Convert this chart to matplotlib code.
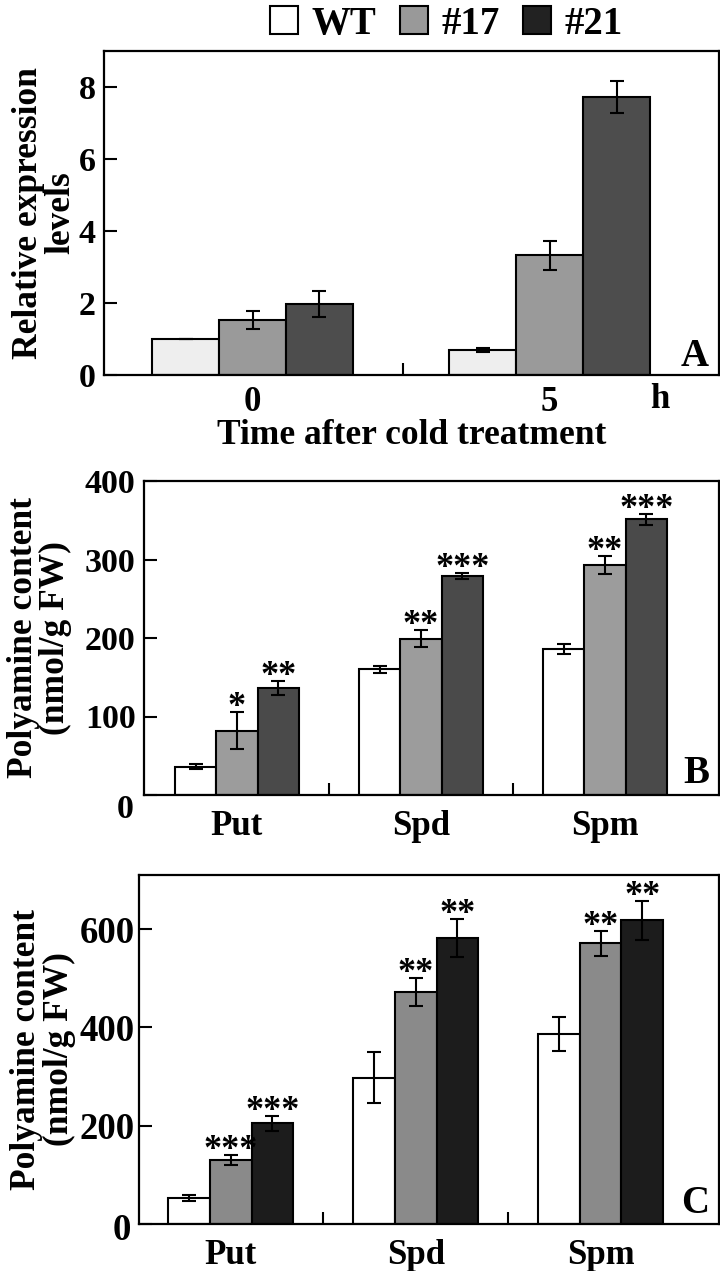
import matplotlib
matplotlib.use("Agg")
import matplotlib.pyplot as plt
from matplotlib.patches import Patch
import numpy as np

plt.rcParams['font.family'] = ['Liberation Serif', 'DejaVu Serif']
plt.rcParams['font.weight'] = 'bold'

# ---------------- data ----------------
genotypes = ['WT', '#17', '#21']

# Panel A
time_labels = ['0', '5']
a_wt = [1.00, 0.70]
a_17 = [1.53, 3.32]
a_21 = [1.98, 7.73]
a_wt_err = [0.0, 0.05]
a_17_err = [0.25, 0.40]
a_21_err = [0.36, 0.44]

# Panel B
amines = ['Put', 'Spd', 'Spm']
b_wt = [36, 160, 186]
b_17 = [82, 199, 293]
b_21 = [136, 279, 351]
b_wt_err = [3, 4, 6]
b_17_err = [24, 11, 12]
b_21_err = [9, 3.5, 7]
b_17_sig = ['*', '**', '**']
b_21_sig = ['**', '***', '***']

# Panel C
c_wt = [52, 298, 386]
c_17 = [131, 472, 571]
c_21 = [205, 582, 618]
c_wt_err = [6, 51, 35]
c_17_err = [10, 28, 26]
c_21_err = [15, 39, 40]
c_17_sig = ['***', '**', '**']
c_21_sig = ['***', '**', '**']

W, H = 720, 1271
fig = plt.figure(figsize=(W / 100, H / 100), dpi=100)


def fr(l, r, top, bot):
    return [l / W, 1 - bot / H, (r - l) / W, (bot - top) / H]


YTICK_FS = 24.5
XTICK_FS = 25
LAB_FS = 25.5
LET_FS = 28
bw = 0.225
err_kw = dict(ecolor='black', elinewidth=1.5, capsize=5, capthick=1.5)


def style(ax, yfs=YTICK_FS, ypad=6, xpad=11):
    for s in ax.spines.values():
        s.set_linewidth(1.6)
    ax.tick_params(axis='y', direction='in', length=9, width=1.5, pad=ypad,
                   labelsize=yfs)
    ax.tick_params(axis='x', which='major', length=0, pad=xpad, labelsize=XTICK_FS)
    ax.tick_params(axis='x', which='minor', direction='in', length=9, width=1.5)
    for lab in ax.get_xticklabels() + ax.get_yticklabels():
        lab.set_fontweight('bold')


def bars(ax, x, vals, errs, colors):
    out = []
    for i, (v, e, c) in enumerate(zip(vals, errs, colors)):
        xs = x + (i - 1) * bw
        ax.bar(xs, v, bw, color=c, edgecolor='black', linewidth=1.5,
               yerr=e, error_kw=err_kw, zorder=2)
        out.append(xs)
    return out


def stars(ax, xs, vals, errs, sig):
    for x, v, e, s in zip(xs, vals, errs, sig):
        ax.annotate(s, xy=(x, v + e), xytext=(0, -4), textcoords='offset pixels',
                    ha='center', va='baseline', fontsize=26, fontweight='bold')


def letter(ax, s, up):
    ax.annotate(s, xy=(1, 0), xycoords='axes fraction', xytext=(-10, up),
                textcoords='offset pixels', ha='right', va='baseline',
                fontsize=LET_FS, fontweight='bold')


# ---------------- Panel A ----------------
axA = fig.add_axes(fr(104, 719, 51, 375))
xA = np.arange(len(time_labels))
colsA = ['#eeeeee', '#9a9a9a', '#4d4d4d']
bars(axA, xA, [a_wt, a_17, a_21], [a_wt_err, a_17_err, a_21_err], colsA)
axA.set_xlim(-0.5, 1.57)
axA.set_ylim(0, 9)
axA.set_yticks([0, 2, 4, 6, 8])
axA.set_xticks(xA)
axA.set_xticklabels(time_labels)
axA.set_xticks([0.505], minor=True)
style(axA, xpad=8)
axA.set_ylabel('Relative expression\nlevels', fontsize=LAB_FS, fontweight='bold',
               linespacing=0.98, labelpad=1)
axA.set_xlabel('Time after cold treatment', fontsize=LAB_FS, fontweight='bold', labelpad=0)
axA.annotate('h', xy=(1.37, 0), xycoords=('data', 'axes fraction'), xytext=(0, -8),
             textcoords='offset pixels', ha='center', va='top', fontsize=XTICK_FS,
             fontweight='bold')
letter(axA, 'A', 9)

# legend
leg_cols = ['white', '#999999', '#222222']
handles = [Patch(facecolor=c, edgecolor='black', linewidth=1.5) for c in leg_cols]
fig.legend(handles, genotypes, loc='upper center', bbox_to_anchor=(0.62, 1.023),
           ncol=3, frameon=False,
           prop={'family': 'Liberation Serif', 'weight': 'bold', 'size': 28},
           handlelength=0.72, handleheight=0.72, handletextpad=0.35, columnspacing=0.6)

# ---------------- Panel B ----------------
axB = fig.add_axes(fr(144, 719, 481, 795))
xB = np.arange(len(amines))
colsB = ['white', '#9c9c9c', '#4a4a4a']
xsB = bars(axB, xB, [b_wt, b_17, b_21], [b_wt_err, b_17_err, b_21_err], colsB)
stars(axB, xsB[1], b_17, b_17_err, b_17_sig)
stars(axB, xsB[2], b_21, b_21_err, b_21_sig)
axB.set_xlim(-0.505, 2.62)
axB.set_ylim(0, 400)
axB.set_yticks([0, 100, 200, 300, 400])
axB.set_yticklabels(['', '100', '200', '300', '400'])
axB.set_xticks(xB)
axB.set_xticklabels(amines)
axB.set_xticks([0.5, 1.5], minor=True)
style(axB)
axB.annotate('0', xy=(0, 0), xycoords=('axes fraction', 'data'), xytext=(-10, -15),
             textcoords='offset pixels', ha='right', va='center', fontsize=YTICK_FS,
             fontweight='bold')
axB.set_ylabel('Polyamine content\n(nmol/g FW)', fontsize=LAB_FS, fontweight='bold',
               linespacing=0.98, labelpad=9)
letter(axB, 'B', 12)

# ---------------- Panel C ----------------
axC = fig.add_axes(fr(139, 719, 875, 1224))
xC = np.arange(len(amines))
colsC = ['white', '#8a8a8a', '#1c1c1c']
xsC = bars(axC, xC, [c_wt, c_17, c_21], [c_wt_err, c_17_err, c_21_err], colsC)
stars(axC, xsC[1], c_17, c_17_err, c_17_sig)
stars(axC, xsC[2], c_21, c_21_err, c_21_sig)
axC.set_xlim(-0.497, 2.64)
axC.set_ylim(0, 710)
axC.set_yticks([0, 200, 400, 600])
axC.set_yticklabels(['', '200', '400', '600'])
axC.set_xticks(xC)
axC.set_xticklabels(amines)
axC.set_xticks([0.5, 1.5], minor=True)
style(axC, yfs=26.5, ypad=3)
axC.annotate('0', xy=(0, 0), xycoords=('axes fraction', 'data'), xytext=(-8, -6),
             textcoords='offset pixels', ha='right', va='center', fontsize=26.5,
             fontweight='bold')
axC.set_ylabel('Polyamine content\n(nmol/g FW)', fontsize=LAB_FS, fontweight='bold',
               linespacing=0.98, labelpad=3)
letter(axC, 'C', 11)

fig.savefig('out.png', dpi=100)
